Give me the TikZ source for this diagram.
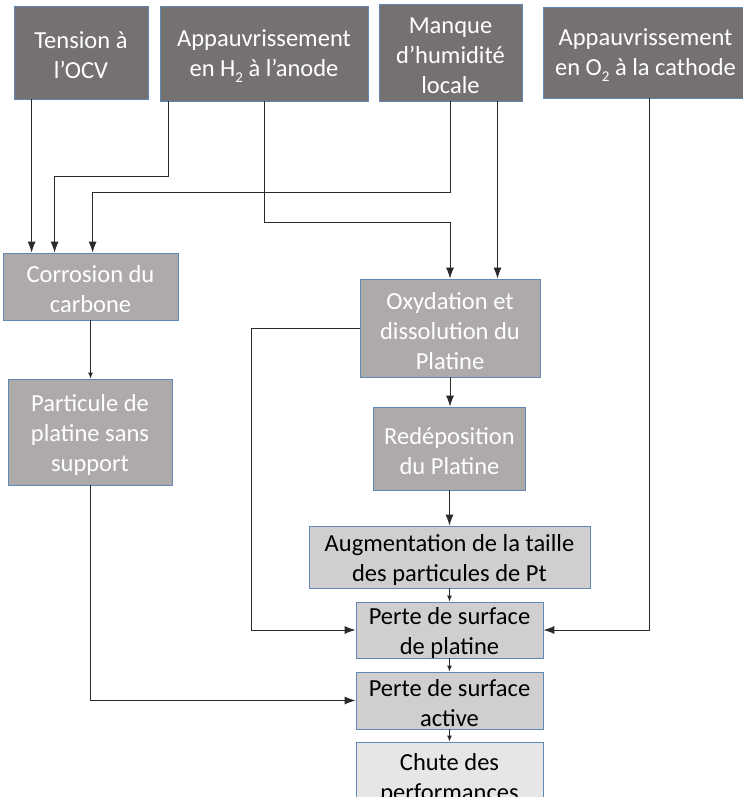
\documentclass[tikz,border=0pt]{standalone}
\usepackage{fontspec}
\setmainfont{Carlito}
\usetikzlibrary{arrows.meta}
\definecolor{bxdark}{HTML}{767171}
\definecolor{bxmid}{HTML}{AEAAAA}
\definecolor{bxlight}{HTML}{D0CECE}
\definecolor{bxpale}{HTML}{E7E6E6}
\definecolor{bxedge}{HTML}{5F88B6}
\definecolor{connc}{HTML}{2A2A2A}
\newcommand{\subtwo}{\raisebox{-6pt}{\fontsize{15}{15}\selectfont 2}}
\tikzset{
  box/.style={draw=bxedge, line width=0.8pt, inner sep=0pt},
  darkbox/.style={box, fill=bxdark},
  midbox/.style={box, fill=bxmid},
  lightbox/.style={box, fill=bxlight},
  palebox/.style={box, fill=bxpale},
  wtxt/.style={text=white, align=center, font=\fontsize{24.5}{30}\selectfont, inner sep=0pt, yshift=-3pt},
  btxt/.style={text=black, align=center, font=\fontsize{24.5}{30}\selectfont, inner sep=0pt, yshift=-3pt},
  conn/.style={draw=connc, line width=0.9pt},
  arr/.style={conn, -{Latex[length=11pt,width=8pt]}},
  sarr/.style={conn, -{Latex[length=6pt,width=5pt]}}
}
\begin{document}
\begin{tikzpicture}[x=1pt,y=-1pt]
\useasboundingbox (0,0) rectangle (743,797);
\fill[white] (0,0) rectangle (743,797);
\clip (0,0) rectangle (743,797);

% top row
\node[darkbox, minimum width=134pt, minimum height=93pt,
  label={[wtxt]center:{Tension à\\l’OCV}}] (ocv) at (81,52.5) {};
\node[darkbox, minimum width=208pt, minimum height=95pt,
  label={[wtxt]center:{Appauvrissement\\en H\subtwo{} à l’anode}}] (h2) at (264,53.5) {};
\node[darkbox, minimum width=143pt, minimum height=97pt,
  label={[wtxt]center:{Manque\\d’humidité\\locale}}] (hum) at (450.5,52.5) {};
\node[darkbox, minimum width=205pt, minimum height=91pt,
  label={[wtxt]center:{Appauvrissement\\en O\subtwo{} à la cathode}}] (o2) at (645.5,52.5) {};

% left column
\node[midbox, minimum width=175pt, minimum height=67pt,
  label={[wtxt]center:{Corrosion du\\carbone}}] (corr) at (90.5,286.5) {};
\node[midbox, minimum width=164pt, minimum height=106pt,
  label={[wtxt]center:{Particule de\\platine sans\\support}}] (part) at (90,432) {};

% centre column
\node[midbox, minimum width=180pt, minimum height=98pt,
  label={[wtxt]center:{Oxydation et\\dissolution du\\Platine}}] (oxy) at (450,328) {};
\node[midbox, minimum width=152pt, minimum height=83pt,
  label={[wtxt]center:{Redéposition\\du Platine}}] (red) at (449.5,448.5) {};
\node[lightbox, minimum width=281pt, minimum height=62pt,
  label={[btxt]center:{Augmentation de la taille\\des particules de Pt}}] (aug) at (449.5,557) {};
\node[lightbox, minimum width=187pt, minimum height=56pt,
  label={[btxt]center:{Perte de surface\\de platine}}] (pps) at (449.5,630) {};
\node[lightbox, minimum width=187pt, minimum height=57pt,
  label={[btxt]center:{Perte de surface\\active}}] (psa) at (449.5,700.5) {};
\node[palebox, minimum width=187pt, minimum height=68pt,
  label={[btxt]center:{Chute des\\performances}}] (chute) at (449.5,776) {};

% connectors
\draw[arr] ([xshift=18pt]ocv.south west) -- ([xshift=18pt]ocv.south west |- corr.north);
\draw[arr] ([xshift=9pt]h2.south west) -- ++(0,75) -| ([xshift=52pt]corr.north west);
\draw[arr] (hum.south) -- ++(0,91) -| ([xshift=90pt]corr.north west);
\draw[arr] (h2.south) -- ++(0,121) -| (oxy.north);
\draw[arr] ([xshift=47pt]hum.south) -- ([xshift=47pt]hum.south |- oxy.north);
\draw[arr] ([xshift=3.5pt]o2.south) |- (pps.east);
\draw[arr] (oxy.west) -- ++(-108,0) |- (pps.west);
\draw[sarr] (corr.south) -- (corr.south |- part.north);
\draw[arr] (part.south) |- (psa.west);
\draw[arr] (oxy.south) -- (oxy.south |- red.north);
\draw[arr] (red.south) -- (red.south |- aug.north);
\draw[sarr] (aug.south) -- (aug.south |- pps.north);
\draw[sarr] (pps.south) -- (pps.south |- psa.north);
\draw[sarr] (psa.south) -- (psa.south |- chute.north);
\end{tikzpicture}
\end{document}
